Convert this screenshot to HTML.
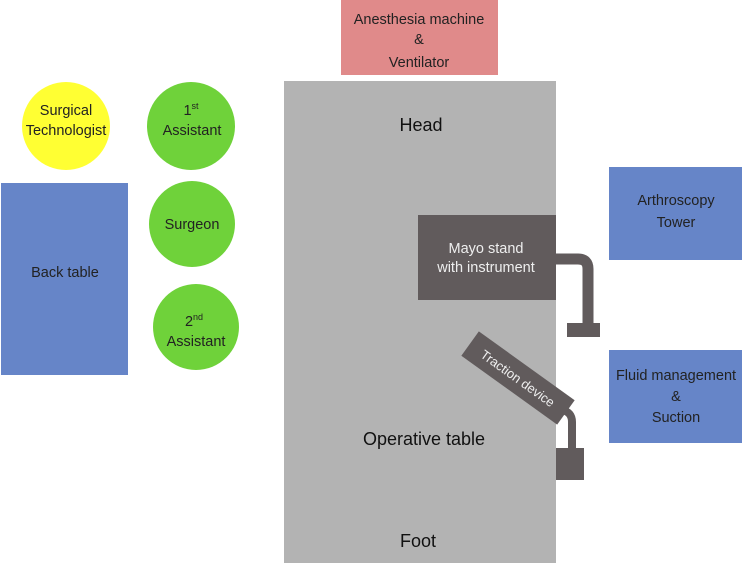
<!DOCTYPE html>
<html><head><style>body{margin:0;background:#fff}</style></head><body>
<svg width="744" height="566" xmlns="http://www.w3.org/2000/svg" font-family="Liberation Sans, sans-serif" text-anchor="middle">
<rect x="341" y="0" width="157" height="75" fill="#e08a8a"/>
<text x="419" y="24" font-size="14.5" fill="#222">Anesthesia machine</text>
<text x="419" y="44" font-size="14.5" fill="#222">&amp;</text>
<text x="419" y="67" font-size="14.5" fill="#222">Ventilator</text>
<rect x="284" y="81" width="272" height="482" fill="#b3b3b3"/>
<text x="421" y="131" font-size="18" fill="#111">Head</text>
<text x="424" y="445" font-size="18" fill="#111">Operative table</text>
<text x="418" y="547" font-size="18" fill="#111">Foot</text>
<circle cx="66" cy="126" r="44" fill="#ffff33"/>
<text x="66" y="115" font-size="14.5" fill="#222">Surgical</text>
<text x="66" y="135" font-size="14.5" fill="#222">Technologist</text>
<circle cx="191" cy="126" r="44" fill="#6fd23a"/>
<text x="191" y="115" font-size="14.5" fill="#222">1<tspan font-size="9" dy="-6">st</tspan></text>
<text x="192" y="135" font-size="14.5" fill="#222">Assistant</text>
<circle cx="192" cy="224" r="43" fill="#6fd23a"/>
<text x="192" y="229" font-size="14.5" fill="#222">Surgeon</text>
<circle cx="196" cy="327" r="43" fill="#6fd23a"/>
<text x="194" y="326" font-size="14.5" fill="#222">2<tspan font-size="9" dy="-6">nd</tspan></text>
<text x="196" y="346" font-size="14.5" fill="#222">Assistant</text>
<rect x="1" y="183" width="127" height="192" fill="#6685c8"/>
<text x="65" y="277" font-size="14.5" fill="#222">Back table</text>
<rect x="609" y="167" width="133" height="93" fill="#6685c8"/>
<text x="676" y="205" font-size="14.5" fill="#222">Arthroscopy</text>
<text x="676" y="227" font-size="14.5" fill="#222">Tower</text>
<rect x="609" y="350" width="133" height="93" fill="#6685c8"/>
<text x="676" y="380" font-size="14.5" fill="#222">Fluid management</text>
<text x="676" y="401" font-size="14.5" fill="#222">&amp;</text>
<text x="676" y="422" font-size="14.5" fill="#222">Suction</text>
<rect x="418" y="215" width="138" height="85" fill="#615b5c"/>
<text x="486" y="253" font-size="14.5" fill="#eee">Mayo stand</text>
<text x="486" y="272" font-size="14.5" fill="#eee">with instrument</text>
<path d="M556 259 H578 Q588 259 588 269 V325" stroke="#615b5c" stroke-width="11" fill="none"/>
<rect x="567" y="323" width="33" height="14" fill="#615b5c"/>
<path d="M562 410 Q572 412 572 422 V450" stroke="#615b5c" stroke-width="8" fill="none"/>
<rect x="556" y="448" width="28" height="32" fill="#615b5c"/>
<g transform="translate(518,378) rotate(35.7)">
<rect x="-59" y="-15" width="118" height="30" fill="#615b5c"/>
<text x="0" y="5" font-size="13" fill="#eee">Traction device</text>
</g>
</svg>
</body></html>
